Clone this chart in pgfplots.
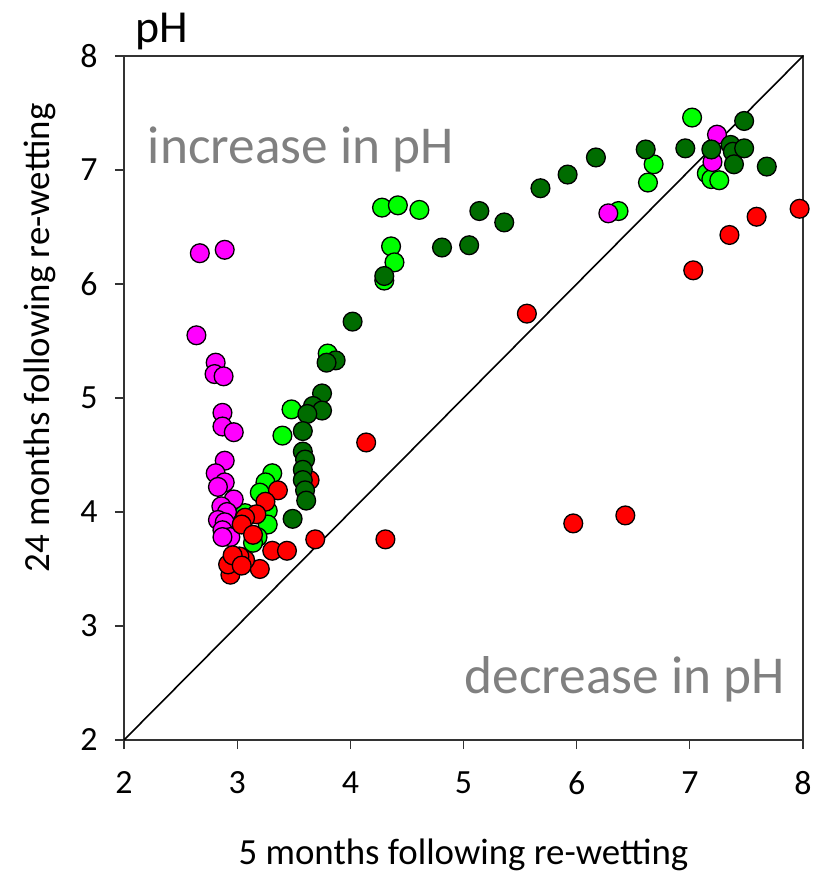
\documentclass[border=0pt]{standalone}
\usepackage{fontspec}
\setmainfont{Carlito}
\usepackage{pgfplots}
\pgfplotsset{compat=1.18}
\definecolor{dgreen}{HTML}{006C00}
\definecolor{lgreen}{HTML}{00FF00}
\definecolor{mag}{HTML}{FF00FF}
\definecolor{rred}{HTML}{FF0000}
\definecolor{txtgray}{HTML}{808080}
\begin{document}
\begin{tikzpicture}
\begin{axis}[
  at={(0,0)}, anchor=south west,
  scale only axis, width=679bp, height=684bp,
  xmin=2, xmax=8, ymin=2, ymax=8,
  xtick={2,3,4,5,6,7,8}, ytick={2,3,4,5,6,7,8},
  tick align=outside, tick pos=left,
  major tick length=9bp,
  axis line style={line width=1.3bp, black!80},
  every tick/.style={line width=1.3bp, black!80},
  /pgf/number format/assume math mode=true,
  ticklabel style={font=\fontsize{34}{40}\selectfont},
  xticklabel style={anchor=center, yshift=-34bp},
  yticklabel style={anchor=center, xshift=-26bp},
  xlabel={5 months following re-wetting},
  ylabel={24 months following re-wetting},
  label style={font=\fontsize{37}{44}\selectfont},
  xlabel style={at={(rel axis cs:0.5,0)}, anchor=center, yshift=-115bp},
  ylabel style={at={([xshift=-84bp]rel axis cs:0,0.588)}, anchor=center},
  clip=false,
]
\addplot[black, line width=1.6bp, no marks] coordinates {(2,2) (8,8)};

% light green
\addplot[only marks, mark=*, mark size=9.4bp, mark options={fill=lgreen, draw=black, line width=1.3bp}] coordinates {
(4.28,6.67) (4.42,6.69) (4.61,6.65) (4.36,6.33) (4.39,6.19) (4.30,6.03)
(3.80,5.39) (3.48,4.90) (3.40,4.67) (3.31,4.34) (3.25,4.26) (3.20,4.17)
(3.27,4.01) (3.27,3.89) (3.18,3.78) (3.14,3.73) (3.07,3.99)
(7.02,7.46) (6.68,7.05) (6.63,6.89) (6.37,6.64) (7.15,6.97) (7.19,6.92) (7.26,6.91)
};

% magenta
\addplot[only marks, mark=*, mark size=9.4bp, mark options={fill=mag, draw=black, line width=1.3bp}] coordinates {
(2.67,6.27) (2.89,6.30) (2.64,5.55) (2.81,5.31) (2.80,5.21) (2.88,5.19)
(2.87,4.87) (2.87,4.75) (2.97,4.70) (2.89,4.45) (2.81,4.34) (2.89,4.26)
(2.83,4.22) (2.97,4.11) (2.86,4.05) (2.91,4.00) (2.83,3.93) (2.89,3.91)
(2.87,3.84) (2.94,3.78) (2.87,3.78)
(6.28,6.62) (7.24,7.31) (7.20,7.07)
};

% red
\addplot[only marks, mark=*, mark size=9.4bp, mark options={fill=rred, draw=black, line width=1.3bp}] coordinates {
(7.97,6.66) (7.59,6.59) (7.35,6.43) (7.03,6.12) (5.56,5.74) (4.14,4.61)
(5.97,3.90) (6.43,3.97) (4.31,3.76) (3.69,3.76) (3.64,4.28)
(3.36,4.19) (3.25,4.09) (3.17,3.98) (3.07,3.95) (3.04,3.89) (3.14,3.80)
(3.31,3.66) (3.44,3.66) (3.20,3.50) (2.94,3.45) (3.07,3.58) (2.98,3.58)
(2.92,3.54) (3.02,3.61) (2.96,3.62) (3.04,3.53)
};

% dark green
\addplot[only marks, mark=*, mark size=9.4bp, mark options={fill=dgreen, draw=black, line width=1.3bp}] coordinates {
(4.81,6.32) (5.05,6.34) (5.14,6.64) (5.36,6.54) (5.68,6.84) (5.92,6.96)
(6.17,7.11) (6.61,7.18) (6.96,7.19) (7.19,7.18) (7.36,7.22) (7.38,7.16)
(7.48,7.19) (7.39,7.05) (7.48,7.43) (7.68,7.03)
(4.30,6.07) (4.02,5.67) (3.87,5.33) (3.79,5.31) (3.75,5.04) (3.67,4.93)
(3.75,4.89) (3.62,4.86) (3.58,4.71) (3.58,4.53) (3.60,4.46) (3.58,4.37)
(3.58,4.28) (3.60,4.19) (3.61,4.10) (3.49,3.94)
};

\node[anchor=west, text=txtgray, font=\fontsize{53.5}{62}\selectfont, inner sep=0pt] at (axis cs:2.21,7.18) {increase in pH};
\node[anchor=east, text=txtgray, font=\fontsize{53.5}{62}\selectfont, inner sep=0pt] at (axis cs:7.84,2.53) {decrease in pH};
\node[anchor=base west, font=\fontsize{46}{54}\selectfont, inner sep=0pt] at ([yshift=13bp]rel axis cs:0.016,1) {pH};
\end{axis}
\pgfresetboundingbox
\path (-124bp,-137bp) rectangle (699bp,740bp);
\end{tikzpicture}
\end{document}
